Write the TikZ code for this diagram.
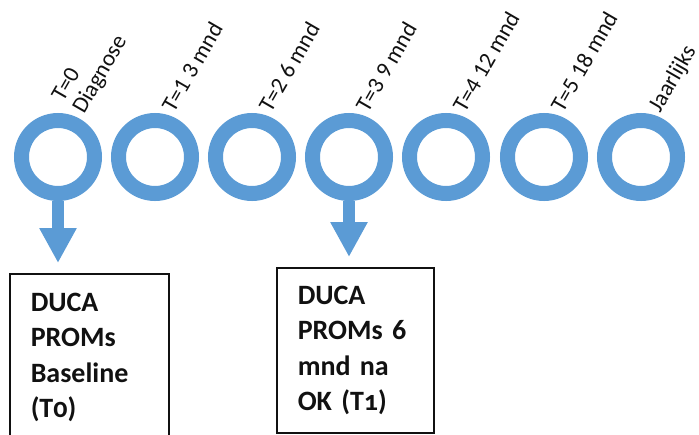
\documentclass[tikz,border=0pt]{standalone}
\usepackage{fontspec}
\setmainfont{Carlito}
\usetikzlibrary{arrows.meta}
\definecolor{ring}{HTML}{5B9BD5}
\definecolor{ink}{HTML}{111111}
\tikzset{
  every node/.style={text=ink},
  moment/.style={circle,draw=ring,line width=15pt,minimum size=73pt,inner sep=0pt},
  tlabel/.style={rotate=60,anchor=base west,inner sep=0pt,align=left,font=\fontsize{23}{24}\selectfont},
  promsbox/.style={draw=ink,line width=1.5pt,anchor=north west,align=left,inner xsep=21pt,inner ysep=19pt,font=\fontsize{28}{35.5}\selectfont\bfseries},
  bigarrow/.style={draw=ring,line width=12pt,-{Triangle[width=35pt,length=35pt]},shorten >=10pt},
}
\newcommand{\osf}[1]{{\addfontfeature{Numbers=OldStyle}#1}}

\begin{document}
\begin{tikzpicture}[x=1pt,y=-1pt]
  \useasboundingbox (0,0) rectangle (699,434);

  % time line
  \node[moment] (t0) at (58,157) {};
  \node[moment] (t1) at (155,157) {};
  \node[moment] (t2) at (252,157) {};
  \node[moment] (t3) at (349,157) {};
  \node[moment] (t4) at (446,157) {};
  \node[moment] (t5) at (544,157) {};
  \node[moment] (jaar) at (641,157) {};

  \node[tlabel] (l0) at (84,115) {T=0\\Diagnose};
  \node[tlabel] (l1) at (174,114) {T=1 3 mnd};
  \node[tlabel] (l2) at (271,114) {T=2 6 mnd};
  \node[tlabel] (l3) at (368,114) {T=3 9 mnd};
  \node[tlabel] (l4) at (465,114) {T=4 12 mnd};
  \node[tlabel] (l5) at (563,114) {T=5 18 mnd};
  \node[tlabel] (lj) at (660,114) {Jaarlijks};

  % measurements
  \node[promsbox,text width=117pt] (baseline) at (9,273) {DUCA\\PROMs\\Baseline\\(T\osf{0})};
  \node[promsbox,text width=115pt,inner ysep=18pt] (zesmnd) at (276,267) {DUCA\\PROMs 6\\mnd na\\OK (T\osf{1})};

  \draw[bigarrow] (t0.south) -- (t0.south |- baseline.north);
  \draw[bigarrow] (t3.south) -- (t3.south |- zesmnd.north);
\end{tikzpicture}
\end{document}
